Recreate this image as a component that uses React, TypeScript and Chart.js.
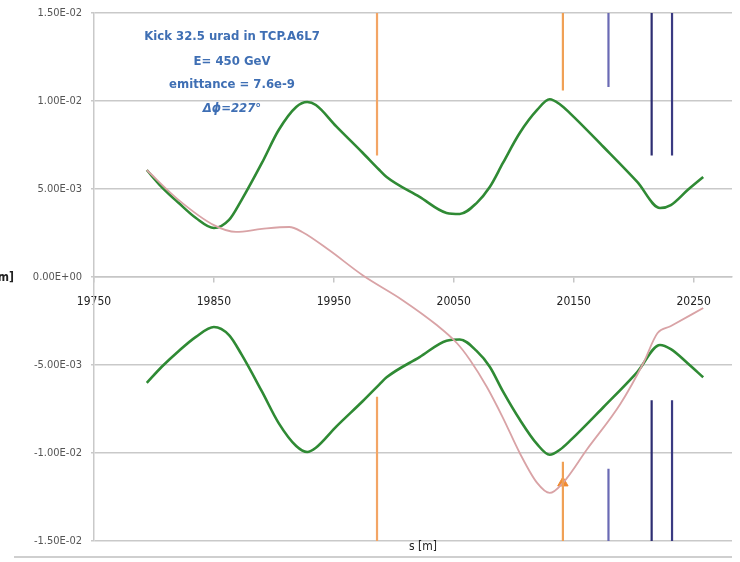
import React, { useEffect, useRef } from "react";
import { Chart, registerables } from "chart.js";
Chart.register(...registerables);

// s positions [m] of the envelope samples
const envelopeS = [19794, 19806.5, 19820.7, 19835, 19850, 19862.6, 19873, 19890, 19904, 19918.6, 19927.8, 19935, 19952, 19974, 19988, 19994, 20021.5, 20044, 20055, 20069, 20080, 20091, 20105, 20119.5, 20130, 20138.7, 20147, 20174.7, 20203, 20222, 20231, 20245, 20258];
const envelopeUpper = [0.00608, 0.00511, 0.0042, 0.00335, 0.00278, 0.00324, 0.00437, 0.00648, 0.00835, 0.00966, 0.00994, 0.00977, 0.00856, 0.00706, 0.00608, 0.00568, 0.00455, 0.00364, 0.00358, 0.0042, 0.00511, 0.00648, 0.00818, 0.00949, 0.0101, 0.0098, 0.0093, 0.0074, 0.0054, 0.00392, 0.00409, 0.00494, 0.00568];
const envelopeLower = [-0.00602, -0.0051, -0.0042, -0.0034, -0.00284, -0.0033, -0.0044, -0.0065, -0.0083, -0.0096, -0.00994, -0.0097, -0.0085, -0.00706, -0.0061, -0.0057, -0.00455, -0.00362, -0.00355, -0.0042, -0.0051, -0.0065, -0.0081, -0.0095, -0.0101, -0.0098, -0.0093, -0.0074, -0.0054, -0.00386, -0.0041, -0.0049, -0.0057];

// closed orbit after the kick
const orbitS = [19794, 19820.7, 19850, 19868.4, 19890, 19912.8, 19923.6, 19946, 19974, 20007, 20035.8, 20052.5, 20063.4, 20077.6, 20091, 20105, 20119.5, 20130, 20141, 20161, 20189, 20208, 20219.8, 20230.7, 20258];
const orbitY = [0.00608, 0.00437, 0.00295, 0.00256, 0.00273, 0.00284, 0.00256, 0.00153, 0.0001, -0.0013, -0.00273, -0.00375, -0.0047, -0.00625, -0.008, -0.01, -0.0117, -0.01227, -0.0117, -0.0098, -0.0072, -0.0049, -0.0032, -0.0028, -0.00176];

// collimator jaws (vertical markers)
const markerS = [19986, 20141, 20179, 20215, 20232];
const markerTopEnd = [0.0069, 0.0106, 0.0108, 0.0069, 0.0069];
const markerBottomEnd = [-0.0068, -0.0105, -0.0109, -0.007, -0.007];
const markerColors = ["#f3a565", "#f0a055", "#6a6ab4", "#2e2e72", "#3a3a82"];
const axisLimit = 0.015;

// kick arrow
const arrowS = [20141];
const arrowY = [-0.0117];

const xTicks = [19750, 19850, 19950, 20050, 20150, 20250];
const yTicks = [-0.015, -0.01, -0.005, 0, 0.005, 0.01, 0.015];

const annotationLines = ["Kick 32.5 urad in TCP.A6L7", "E= 450 GeV", "emittance = 7.6e-9", "Δϕ=227°"];

const FONT = "'Liberation Sans Narrow', 'DejaVu Sans Condensed', Roboto, sans-serif";

function fmtExp(v: number): string {
  if (Math.abs(v) < 1e-12) return "0.00E+00";
  const s = v.toExponential(2);
  const [m, e] = s.split("e");
  const sign = e[0] === "-" ? "-" : "+";
  const digits = e.replace(/[+-]/, "").padStart(2, "0");
  return `${m}E${sign}${digits}`;
}

const textPlugin = {
  id: "texts",
  afterDraw(chart: any) {
    const { ctx, chartArea } = chart;
    ctx.save();
    ctx.textAlign = "center";
    ctx.textBaseline = "middle";
    ctx.fillStyle = "#3f6fb4";
    const cx = chartArea.left + 138;
    const ys = [37, 62, 85, 109];
    annotationLines.forEach((t, i) => {
      ctx.font = (i === 3 ? "italic bold 13px " : "bold 13px ") + FONT;
      ctx.fillText(t, cx, ys[i]);
    });
    ctx.fillStyle = "#222";
    ctx.font = "12px " + FONT;
    ctx.fillText("s [m]", 423, 547);
    ctx.textAlign = "right";
    ctx.font = "bold 12px " + FONT;
    ctx.fillText("[m]", 14, 278);
    ctx.strokeStyle = "#cfcfcf";
    ctx.lineWidth = 2;
    ctx.beginPath();
    ctx.moveTo(14, 557);
    ctx.lineTo(chartArea.right, 557);
    ctx.stroke();
    ctx.restore();
  },
};

export default function App() {
  const ref = useRef<HTMLCanvasElement>(null);
  useEffect(() => {
    if (!ref.current) return;
    const pts = (xs: number[], ys: number[]) => xs.map((x, i) => ({ x, y: ys[i] }));
    const markerSets = markerS.map((s, i) => ({
      data: [
        { x: s, y: axisLimit },
        { x: s, y: markerTopEnd[i] },
        { x: s, y: null },
        { x: s, y: markerBottomEnd[i] },
        { x: s, y: -axisLimit },
      ],
      borderColor: markerColors[i],
      borderWidth: 2.2,
      pointRadius: 0,
      showLine: true,
      spanGaps: false,
    }));
    const chart = new Chart(ref.current, {
      type: "scatter",
      data: {
        datasets: [
          ...markerSets,
          {
            data: pts(orbitS, orbitY),
            borderColor: "#d9a3a6",
            borderWidth: 1.8,
            pointRadius: 0,
            showLine: true,
            cubicInterpolationMode: "monotone",
          },
          {
            data: pts(envelopeS, envelopeUpper),
            borderColor: "#2f8a34",
            borderWidth: 2.6,
            pointRadius: 0,
            showLine: true,
            cubicInterpolationMode: "monotone",
          },
          {
            data: pts(envelopeS, envelopeLower),
            borderColor: "#2f8a34",
            borderWidth: 2.6,
            pointRadius: 0,
            showLine: true,
            cubicInterpolationMode: "monotone",
          },
          {
            data: pts(arrowS, arrowY),
            pointStyle: "triangle",
            pointRadius: 6,
            backgroundColor: "#f08a30",
            borderColor: "#f08a30",
            showLine: false,
          },
        ] as any,
      },
      options: {
        responsive: false,
        animation: false,
        devicePixelRatio: 1,
        layout: { padding: { left: 0, right: 8, top: 13, bottom: 21 } },
        plugins: { legend: { display: false }, tooltip: { enabled: false } },
        scales: {
          x: {
            type: "linear",
            min: 19750,
            max: 20282,
            position: { y: 0 } as any,
            afterBuildTicks: (scale: any) => {
              scale.ticks = xTicks.map((v) => ({ value: v }));
            },
            grid: { drawOnChartArea: false, drawTicks: true, tickLength: 5, color: "#c6c6c6", lineWidth: 1.5 },
            border: { display: true, color: "#c6c6c6", width: 1.5 },
            ticks: {
              padding: 13,
              color: "#222",
              font: { family: FONT, size: 12 },
              callback: (v: any) => String(v),
              maxRotation: 0,
            },
          },
          y: {
            type: "linear",
            min: -0.015,
            max: 0.015,
            afterBuildTicks: (scale: any) => {
              scale.ticks = yTicks.map((v) => ({ value: v }));
            },
            afterFit: (scale: any) => {
              scale.width = 94;
              scale.paddingTop = 0;
              scale.paddingBottom = 0;
            },
            grid: { color: "#c9c9c9", lineWidth: 1.6, tickLength: 3 },
            border: { display: true, color: "#c9c9c9", width: 1.5 },
            ticks: {
              padding: 9,
              color: "#555",
              font: { family: FONT, size: 11 },
              callback: (v: any) => fmtExp(Number(v)),
            },
          },
        },
      },
      plugins: [textPlugin],
    });
    return () => chart.destroy();
  }, []);
  return (
    <div style={{ position: "fixed", left: 0, top: 0, width: 740, height: 562, background: "#fff" }}>
      <canvas ref={ref} width={740} height={562} />
    </div>
  );
}
